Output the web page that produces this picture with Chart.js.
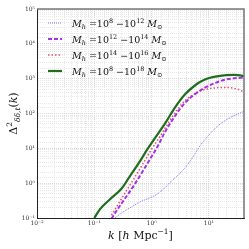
<!DOCTYPE html>
<html>
<head>
<meta charset="utf-8">
<script src="https://cdn.jsdelivr.net/npm/chart.js@4"></script>
<style>
  html, body { margin: 0; padding: 0; background: #fff; }
  #chart { display: block; }
</style>
</head>
<body>
<canvas id="chart" width="249" height="249"></canvas>
<script>
// k [h/Mpc] and Delta^2 for each halo mass range
const kBlue    = [0.23, 0.3, 0.45, 0.63, 0.9, 1.24, 1.72, 2.1, 3, 3.8, 5, 7.3, 10, 13.8, 19, 28, 41];
const pBlue    = [0.1, 0.14, 0.21, 0.29, 0.37, 0.48, 0.75, 1.05, 1.8, 2.7, 5, 13, 24, 42, 62, 88, 115];

const kMagenta = [0.2, 0.25, 0.35, 0.5, 0.7, 1.0, 1.3, 1.72, 2.5, 3.8, 6, 8.5, 13, 19, 28, 41];
const pMagenta = [0.095, 0.17, 0.38, 0.9, 2.2, 5.8, 12, 30, 80, 200, 380, 550, 760, 930, 1030, 1070];

const kPink    = [0.2, 0.25, 0.35, 0.5, 0.7, 1.0, 1.3, 1.72, 2.5, 3.8, 6, 8.5, 13, 21, 30, 41];
const pPink    = [0.12, 0.22, 0.55, 1.4, 3.5, 9.5, 18, 38, 100, 230, 390, 490, 545, 560, 510, 420];

const kGreen   = [0.1, 0.126, 0.19, 0.3, 0.42, 0.6, 0.83, 1.15, 1.72, 2.5, 3.8, 6, 8.5, 13, 20, 28, 35, 41];
const pGreen   = [0.1, 0.18, 0.35, 0.7, 1.6, 3.8, 9, 20, 52, 140, 350, 680, 950, 1150, 1260, 1290, 1250, 1170];

// legend: mass ranges (exponents of 10)
const massFrom = ['8', '12', '14', '8'];
const massTo   = ['12', '14', '16', '18'];

// major tick values
const xMajor = [1e-2, 1e-1, 1, 10];
const yMajor = [1e-1, 1, 10, 1e2, 1e3, 1e4, 1e5];

const SUP = {'-': '\u207B', '0': '\u2070', '1': '\u00B9', '2': '\u00B2', '3': '\u00B3',
             '4': '\u2074', '5': '\u2075', '6': '\u2076', '7': '\u2077', '8': '\u2078', '9': '\u2079'};
function sup(s) { return String(s).split('').map(c => SUP[c] || c).join(''); }

function majorLabel(list) {
    return function(value) {
        for (const m of list) {
            if (Math.abs(value / m - 1) < 1e-6) return '10' + sup(Math.round(Math.log10(m)));
        }
        return '';
    };
}

function pts(ks, ps) { return ks.map((k, i) => ({x: k, y: ps[i]})); }

const styles = [
    {color: '#7474ff', width: 1, dash: [1, 1]},
    {color: '#a62ee6', width: 2, dash: [4, 2]},
    {color: '#e8506e', width: 1.5, dash: [1.5, 2]},
    {color: '#1e6e1e', width: 2.2, dash: []}
];

const series = [pts(kBlue, pBlue), pts(kMagenta, pMagenta), pts(kPink, pPink), pts(kGreen, pGreen)];

const SERIF = '"DejaVu Serif", "Liberation Serif", serif';

// draw a run of text pieces: {t, i (italic), s (1 sup, -1 sub)}
function drawRich(ctx, parts, x, y, size, align) {
    const fontFor = p => (p.i ? 'italic ' : '') + (p.s ? size * 0.68 : size) + 'px ' + SERIF;
    let total = 0;
    parts.forEach(p => { ctx.font = fontFor(p); total += ctx.measureText(p.t).width; });
    let cx = align === 'center' ? x - total / 2 : x;
    ctx.textAlign = 'left';
    ctx.textBaseline = 'alphabetic';
    parts.forEach(p => {
        ctx.font = fontFor(p);
        const dy = p.s === 1 ? -size * 0.42 : p.s === -1 ? size * 0.25 : 0;
        ctx.fillText(p.t, cx, y + dy);
        cx += ctx.measureText(p.t).width;
    });
}

const overlay = {
    id: 'overlay',
    afterDraw(chart) {
        const ctx = chart.ctx, a = chart.chartArea;
        ctx.save();

        // top and right frame lines
        ctx.strokeStyle = '#777';
        ctx.lineWidth = 1.5;
        ctx.beginPath();
        ctx.moveTo(a.left, a.top);
        ctx.lineTo(a.right, a.top);
        ctx.lineTo(a.right, a.bottom);
        ctx.stroke();

        // legend
        ctx.fillStyle = '#111';
        for (let i = 0; i < styles.length; i++) {
            const st = styles[i];
            const y = a.top + 14 + i * 16;
            ctx.strokeStyle = st.color;
            ctx.lineWidth = st.width;
            ctx.setLineDash(st.dash);
            ctx.beginPath();
            ctx.moveTo(a.left + 11, y);
            ctx.lineTo(a.left + 25, y);
            ctx.stroke();
            ctx.setLineDash([]);
            drawRich(ctx, [
                {t: 'M', i: true}, {t: 'h', i: true, s: -1},
                {t: ' =10'}, {t: massFrom[i], s: 1},
                {t: ' \u221210'}, {t: massTo[i], s: 1},
                {t: ' M', i: true}, {t: '\u2299', s: -1}
            ], a.left + 35, y + 3.5, 9.5, 'left');
        }

        // x axis title
        drawRich(ctx, [
            {t: 'k', i: true}, {t: ' ['}, {t: 'h', i: true}, {t: ' Mpc'}, {t: '\u22121', s: 1}, {t: ']'}
        ], (a.left + a.right) / 2, 239, 11, 'center');

        // y axis title
        ctx.translate(17, (a.top + a.bottom) / 2);
        ctx.rotate(-Math.PI / 2);
        drawRich(ctx, [
            {t: '\u0394'}, {t: '2', s: 1}, {t: '\u03B4\u03B4,t', i: true, s: -1},
            {t: '('}, {t: 'k', i: true}, {t: ')'}
        ], 0, 0, 11, 'center');

        ctx.restore();
    }
};

function gridColor(list) {
    return c => {
        const v = c.tick && c.tick.value;
        return list.some(m => Math.abs(v / m - 1) < 1e-6) ? '#cfcfcf' : '#e2e2e2';
    };
}

new Chart(document.getElementById('chart'), {
    type: 'line',
    data: {
        datasets: series.map((d, i) => ({
            data: d,
            borderColor: styles[i].color,
            borderWidth: styles[i].width,
            borderDash: styles[i].dash,
            pointRadius: 0,
            fill: false,
            cubicInterpolationMode: 'monotone'
        }))
    },
    options: {
        responsive: false,
        animation: false,
        events: [],
        layout: { padding: { top: 9, right: 5, left: 0, bottom: 0 } },
        plugins: { legend: { display: false }, tooltip: { enabled: false } },
        scales: {
            x: {
                type: 'logarithmic',
                min: 0.01,
                max: 41,
                afterFit: s => { s.height = 31; },
                grid: { color: gridColor(xMajor), drawTicks: false, lineWidth: 0.8 },
                border: { display: true, color: '#222', width: 1, dash: [1, 1] },
                ticks: {
                    callback: majorLabel(xMajor),
                    autoSkip: false, maxRotation: 0, minRotation: 0, padding: 2,
                    color: '#333', font: { family: SERIF, size: 6 }
                }
            },
            y: {
                type: 'logarithmic',
                min: 0.1,
                max: 1e5,
                afterFit: s => { s.width = 37; },
                grid: { color: gridColor(yMajor), drawTicks: false, lineWidth: 0.8 },
                border: { display: true, color: '#222', width: 1, dash: [1, 1] },
                ticks: {
                    callback: majorLabel(yMajor),
                    autoSkip: false, padding: 2,
                    color: '#333', font: { family: SERIF, size: 6 }
                }
            }
        }
    },
    plugins: [overlay]
});
</script>
</body>
</html>
